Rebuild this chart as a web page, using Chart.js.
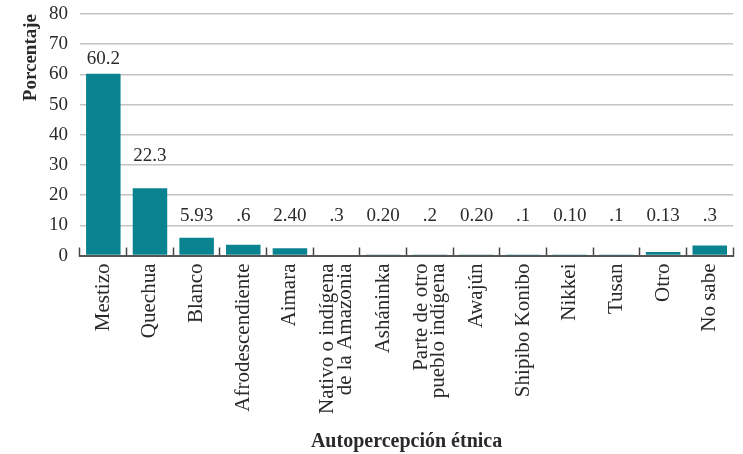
<!DOCTYPE html>
<html>
<head>
<meta charset="utf-8">
<script src="https://cdn.jsdelivr.net/npm/chart.js@4"></script>
<style>
  html, body { margin: 0; padding: 0; background: #fff; }
  #wrap { width: 743px; height: 454px; }
</style>
</head>
<body>
<div id="wrap"><canvas id="chart" width="743" height="454"></canvas></div>
<script>
const categories = [
  "Mestizo", "Quechua", "Blanco", "Afrodescendiente", "Aimara",
  ["Nativo o indígena", "de la Amazonia"], "Asháninka",
  ["Parte de otro", "pueblo indígena"], "Awajún", "Shipibo Konibo",
  "Nikkei", "Tusan", "Otro", "No sabe"
];
const values = [60.2, 22.3, 5.93, 3.6, 2.4, 0.3, 0.2, 0.2, 0.2, 0.1, 0.1, 0.1, 1.13, 3.3];
const valueLabels = ["60.2", "22.3", "5.93", ".6", "2.40", ".3", "0.20", ".2", "0.20", ".1", "0.10", ".1", "0.13", ".3"];
const yTicks = [0, 10, 20, 30, 40, 50, 60, 70, 80];

const serif = "'Liberation Serif', 'DejaVu Serif', serif";

// etiquetas de valor sobre las barras
const valueLabelPlugin = {
  id: "valueLabels",
  afterDatasetsDraw(chart) {
    const ctx = chart.ctx;
    const y = chart.scales.y;
    const meta = chart.getDatasetMeta(0);
    ctx.save();
    ctx.font = "19px " + serif;
    ctx.fillStyle = "#2a2a2a";
    ctx.textAlign = "center";
    ctx.textBaseline = "middle";
    meta.data.forEach((bar, i) => {
      const level = values[i] > 10 ? values[i] * 0.85 + 14 : 13;
      ctx.fillText(valueLabels[i], bar.x, y.getPixelForValue(level));
    });
    ctx.restore();
  }
};

// centra las etiquetas de dos líneas sobre su categoría
const centerMultiline = {
  id: "centerMultiline",
  beforeDraw(chart) {
    const x = chart.scales.x;
    const items = x.getLabelItems(chart.chartArea);
    items.forEach(item => {
      if (Array.isArray(item.label) && !item._centered) {
        item.textOffset -= (item.label.length - 1) * item.font.lineHeight / 2;
        item._centered = true;
      }
    });
  }
};

new Chart(document.getElementById("chart"), {
  type: "bar",
  data: {
    labels: categories,
    datasets: [{
      data: values,
      backgroundColor: "#0a8391",
      barPercentage: 0.74,
      categoryPercentage: 1
    }]
  },
  options: {
    responsive: false,
    animation: false,
    layout: { padding: { top: 0, right: 0, left: 0, bottom: 0 } },
    plugins: {
      legend: { display: false },
      tooltip: { enabled: false }
    },
    scales: {
      x: {
        grid: {
          offset: true,
          drawOnChartArea: false,
          tickLength: -8,
          tickColor: "#444",
          tickWidth: 1.5
        },
        border: { color: "#555", width: 2 },
        ticks: {
          font: { family: serif, size: 21, lineHeight: 0.82 },
          color: "#2a2a2a",
          minRotation: 90,
          maxRotation: 90,
          autoSkip: false,
          padding: 16
        },
        title: {
          display: true,
          text: "Autopercepción étnica",
          font: { family: serif, size: 20, weight: "bold" },
          color: "#2a2a2a",
          padding: { top: 0, bottom: 0 }
        }
      },
      y: {
        min: 0,
        max: 80,
        afterBuildTicks: (scale) => { scale.ticks = yTicks.map(v => ({ value: v })); },
        afterFit: (scale) => {
          scale.width = 80;
          scale.paddingTop = 14;
        },
        grid: { color: "#c4c4c4", lineWidth: 1.6, drawTicks: false },
        border: { display: false },
        ticks: {
          font: { family: serif, size: 19 },
          color: "#2a2a2a",
          padding: 12
        },
        title: {
          display: true,
          text: "Porcentaje",
          align: "end",
          font: { family: serif, size: 19, weight: "bold" },
          color: "#2a2a2a",
          padding: { top: 20, bottom: 0 }
        }
      }
    }
  },
  plugins: [valueLabelPlugin, centerMultiline]
});
</script>
</body>
</html>
